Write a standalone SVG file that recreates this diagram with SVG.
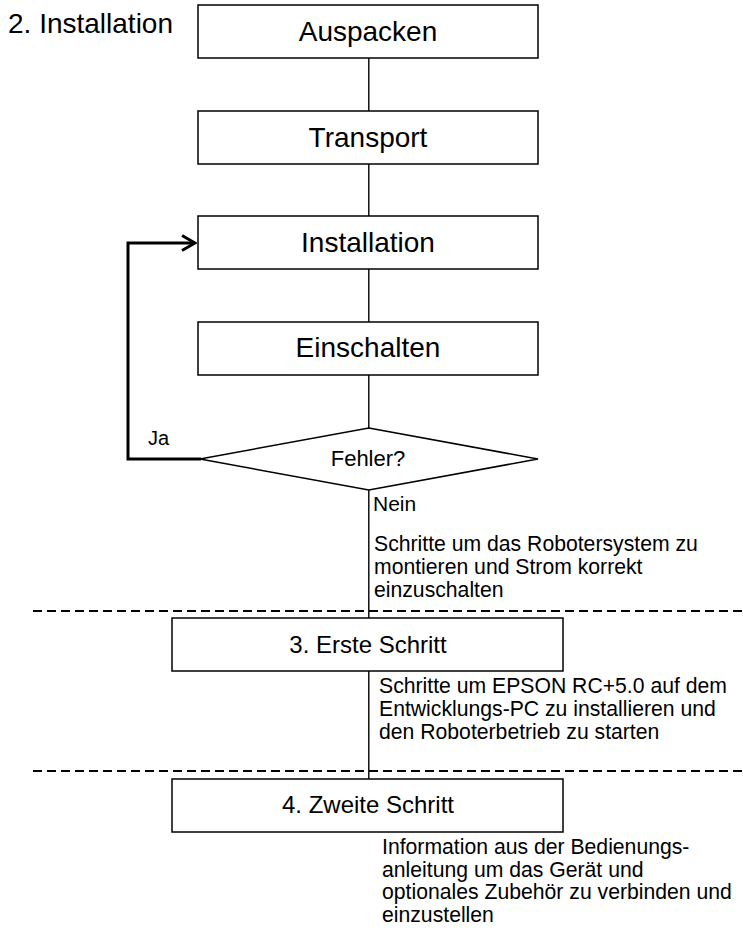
<svg xmlns="http://www.w3.org/2000/svg" width="743" height="933" viewBox="0 0 743 933">
  <style>
    text { font-family: "Liberation Sans", Arial, sans-serif; fill: #000; }
    .box { fill: #fff; stroke: #000; stroke-width: 1.5; }
    .big { font-size: 28px; text-anchor: middle; }
    .mid { font-size: 24px; text-anchor: middle; }
    .note { font-size: 21.2px; }
    .line { fill: none; stroke: #000; stroke-width: 1.4; }
    .loop { fill: none; stroke: #000; stroke-width: 3; stroke-linejoin: miter; }
    .sep { stroke: #000; stroke-width: 2.2; stroke-dasharray: 9 5; }
  </style>
  <defs>
    <marker id="openArrow" viewBox="0 0 16 18" refX="14" refY="9" markerWidth="16" markerHeight="18" markerUnits="userSpaceOnUse" orient="auto">
      <path d="M1,1.5 L14,9 L1,16.5" fill="none" stroke="#000" stroke-width="3"/>
    </marker>
  </defs>

  <rect width="743" height="933" fill="#fff"/>

  <text x="8" y="33" style="font-size:28px">2. Installation</text>

  <!-- section separators -->
  <line class="sep" x1="33" y1="611" x2="743" y2="611"/>
  <line class="sep" x1="33" y1="771" x2="743" y2="771"/>

  <!-- connectors -->
  <g id="connectors">
    <line class="line" x1="368.8" y1="58" x2="368.8" y2="111"/>
    <line class="line" x1="368.8" y1="164" x2="368.8" y2="216"/>
    <line class="line" x1="368.8" y1="269" x2="368.8" y2="322"/>
    <line class="line" x1="368.8" y1="375" x2="368.8" y2="428"/>
    <line class="line" x1="368.8" y1="490" x2="368.8" y2="618"/>
    <line class="line" x1="368.8" y1="671" x2="368.8" y2="779"/>
    <polyline class="loop" points="201,459 128,459 128,243 195,243" marker-end="url(#openArrow)"/>
    <text x="148" y="445" style="font-size:20px">Ja</text>
    <text x="373" y="511" style="font-size:21px">Nein</text>
  </g>

  <g id="auspacken">
    <rect class="box" x="198" y="5" width="340" height="53"/>
    <text class="big" x="368" y="41">Auspacken</text>
  </g>
  <g id="transport">
    <rect class="box" x="198" y="111" width="340" height="53"/>
    <text class="big" x="368" y="147">Transport</text>
  </g>
  <g id="installation">
    <rect class="box" x="198" y="216" width="340" height="53"/>
    <text class="big" x="368" y="252">Installation</text>
  </g>
  <g id="einschalten">
    <rect class="box" x="198" y="322" width="340" height="53"/>
    <text class="big" x="368" y="357">Einschalten</text>
  </g>
  <g id="fehler">
    <polygon class="box" points="368.8,428 538,459 368.8,490 200,459"/>
    <text x="368" y="466" style="font-size:22px;text-anchor:middle">Fehler?</text>
  </g>
  <g id="note-installation">
    <text class="note" x="374" y="551">Schritte um das Robotersystem zu</text>
    <text class="note" x="374" y="574">montieren und Strom korrekt</text>
    <text class="note" x="374" y="597">einzuschalten</text>
  </g>
  <g id="erste-schritt">
    <rect class="box" x="172" y="618" width="391" height="53"/>
    <text class="mid" x="368" y="653">3. Erste Schritt</text>
  </g>
  <g id="note-erste">
    <text class="note" x="379" y="693">Schritte um EPSON RC+5.0 auf dem</text>
    <text class="note" x="379" y="716">Entwicklungs-PC zu installieren und</text>
    <text class="note" x="379" y="739">den Roboterbetrieb zu starten</text>
  </g>
  <g id="zweite-schritt">
    <rect class="box" x="172" y="779" width="391" height="53"/>
    <text class="mid" x="368" y="813">4. Zweite Schritt</text>
  </g>
  <g id="note-zweite">
    <text class="note" x="382" y="854">Information aus der Bedienungs-</text>
    <text class="note" x="382" y="876.5">anleitung um das Gerät und</text>
    <text class="note" x="382" y="899">optionales Zubehör zu verbinden und</text>
    <text class="note" x="382" y="921.5">einzustellen</text>
  </g>
</svg>
